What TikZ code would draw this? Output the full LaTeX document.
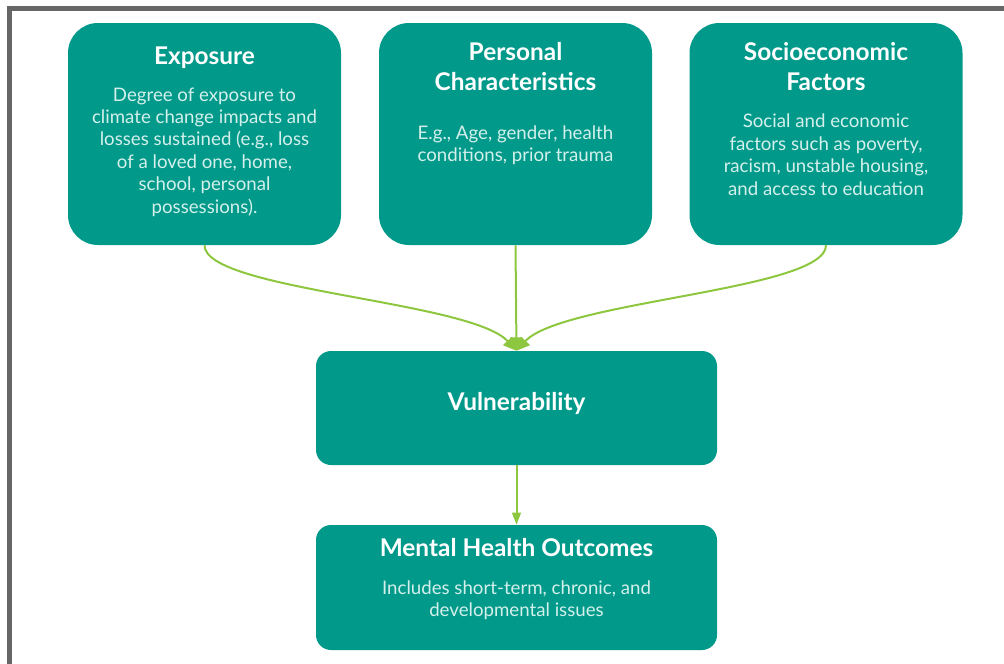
\documentclass[tikz,border=0pt]{standalone}
\usepackage{fontspec}
\setmainfont{Lato}
\usetikzlibrary{arrows.meta}
\definecolor{boxteal}{HTML}{00998A}
\definecolor{bodytxt}{HTML}{D4F0EB}
\definecolor{leafgreen}{HTML}{8DC63F}
\definecolor{framegray}{HTML}{666666}
\tikzset{
  box/.style={fill=boxteal, rounded corners=22.5pt, minimum width=204.75pt, minimum height=166.5pt, inner sep=0pt},
  wide/.style={box, rounded corners=11.25pt, minimum width=300.75pt},
  head/.style={text=white, font=\fontsize{18.3}{22}\selectfont\bfseries, align=center, anchor=base, inner sep=0pt},
  body/.style={text=bodytxt, font=\fontsize{14}{16.8}\selectfont, align=center, anchor=base, inner sep=0pt},
  link/.style={draw=leafgreen, line width=1.5pt, -{Triangle[width=6.5pt,length=9pt]}},
  feed/.style={link, -{Triangle[width=9pt,length=10pt]}}
}
\begin{document}
\begin{tikzpicture}[x=0.75pt,y=-0.75pt]
\useasboundingbox (0,0) rectangle (1004,664);
% frame
\draw[framegray, line width=3.75pt] (9.5,664) |- (1004,8.5);
% top row
\node[box] (expo) at (204.5,134) {};
\node[box] (pers) at (515.5,134) {};
\node[box] (socio) at (826,134) {};
\node[head] (expoT) at (204.5,64) {Exposure};
\node[body] (expoB) at (204.5,213) {Degree of exposure to\\climate change impacts and\\losses sustained (e.g., loss\\of a loved one, home,\\school, personal\\possessions).};
\node[head] (persT) at (515.5,90) {Personal\\Characteristics};
\node[body] (persB) at (515.5,161.5) {E.g., Age, gender, health\\conditions, prior trauma};
\node[head] (socioT) at (826,90) {Socioeconomic\\Factors};
\node[body] (socioB) at (826,195) {Social and economic\\factors such as poverty,\\racism, unstable housing,\\and access to education};
% lower boxes
\node[wide, minimum height=85.5pt] (vul) at (516.5,408) {};
\node[head] (vulT) at (516.5,410) {Vulnerability};
\node[wide, minimum height=93.75pt] (mho) at (516.5,587.5) {};
\node[head] (mhoT) at (516.5,556.5) {Mental Health Outcomes};
\node[body] (mhoB) at (516.5,616.5) {Includes short-term, chronic, and\\developmental issues};
% links
\draw[feed] (expo.south) .. controls +(0,45) and +(-46,-50) .. (vul.north);
\draw[feed] (pers.south) -- (vul.north);
\draw[feed] (socio.south) .. controls +(0,45) and +(46,-50) .. (vul.north);
\draw[link] (vul.south) -- (mho.north);
\end{tikzpicture}
\end{document}
